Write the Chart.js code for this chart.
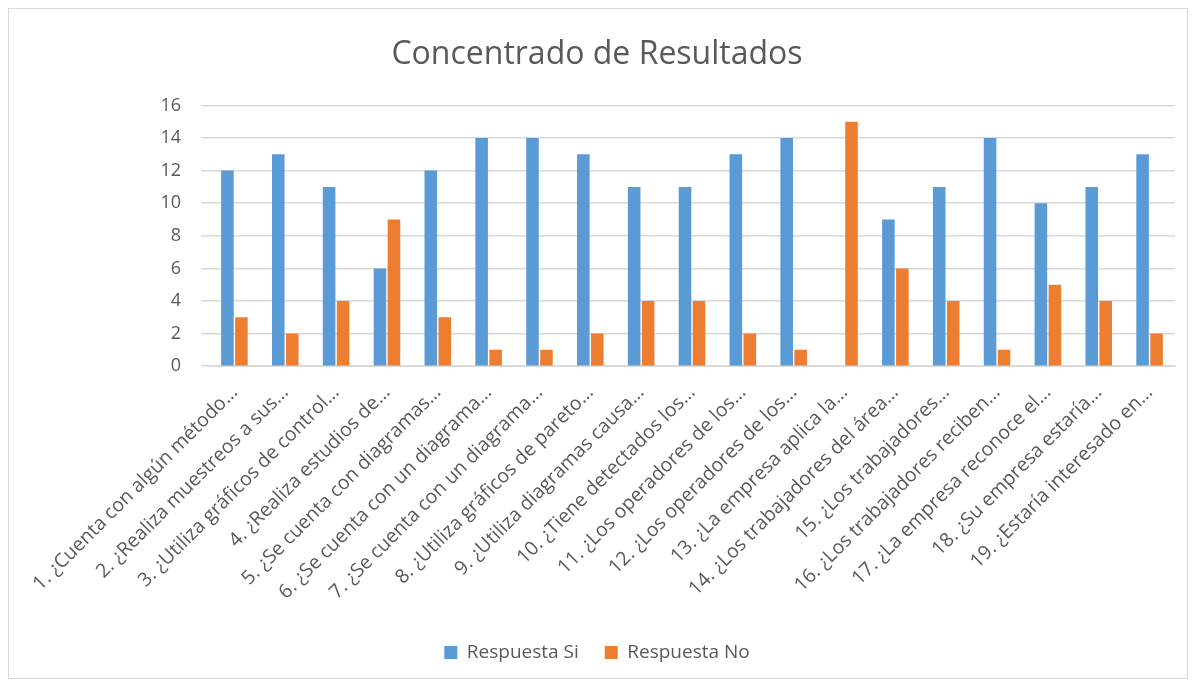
<!DOCTYPE html>
<html>
<head>
<meta charset="utf-8">
<script src="https://cdn.jsdelivr.net/npm/chart.js@4"></script>
<style>
  html, body { margin: 0; padding: 0; background: #fff; }
  #wrap { position: absolute; left: 8px; top: 8px; width: 1180px; height: 671px; border: 1px solid #d9d9d9; box-sizing: border-box; }
</style>
</head>
<body>
<div id="wrap"><canvas id="resultados"></canvas></div>
<script>
/* Concentrado de Resultados */
const preguntas = [
  '1. ¿Cuenta con algún método…',
  '2. ¿Realiza muestreos a sus…',
  '3. ¿Utiliza gráficos de control…',
  '4. ¿Realiza estudios de…',
  '5. ¿Se cuenta con diagramas…',
  '6. ¿Se cuenta con un diagrama…',
  '7. ¿Se cuenta con un diagrama…',
  '8. ¿Utiliza gráficos de pareto…',
  '9. ¿Utiliza diagramas causa…',
  '10. ¿Tiene detectados los…',
  '11. ¿Los operadores de los…',
  '12. ¿Los operadores de los…',
  '13. ¿La empresa aplica la…',
  '14. ¿Los trabajadores del área…',
  '15. ¿Los trabajadores…',
  '16. ¿Los trabajadores reciben…',
  '17. ¿La empresa reconoce el…',
  '18. ¿Su empresa estaría…',
  '19. ¿Estaría interesado en…'
];
const respuestaSi = [12, 13, 11, 6, 12, 14, 14, 13, 11, 11, 13, 14, 0, 9, 11, 14, 10, 11, 13];
const respuestaNo = [3, 2, 4, 9, 3, 1, 1, 2, 4, 4, 2, 1, 15, 6, 4, 1, 5, 4, 2];
const yTicks = [0, 2, 4, 6, 8, 10, 12, 14, 16];

const gris = '#595959';
const fuente = "'Open Sans', 'Noto Sans', sans-serif";

new Chart(document.getElementById('resultados'), {
  type: 'bar',
  data: {
    labels: preguntas,
    datasets: [
      { label: 'Respuesta Si', data: respuestaSi, backgroundColor: '#5b9bd5' },
      { label: 'Respuesta No', data: respuestaNo, backgroundColor: '#ed7d31' }
    ]
  },
  options: {
    responsive: true,
    maintainAspectRatio: false,
    animation: false,
    categoryPercentage: 0.55,
    barPercentage: 0.9,
    layout: { padding: { left: 10, right: 12, top: 0, bottom: 6 } },
    plugins: {
      title: {
        display: true,
        text: 'Concentrado de Resultados',
        color: gris,
        font: { family: fuente, size: 32, weight: 'normal' },
        padding: { top: 27, bottom: 31 }
      },
      legend: {
        position: 'bottom',
        labels: {
          color: gris,
          font: { family: fuente, size: 19 },
          boxWidth: 13,
          boxHeight: 13,
          padding: 26
        }
      },
      tooltip: { enabled: false }
    },
    scales: {
      x: {
        grid: { display: false },
        border: { color: '#d9d9d9' },
        afterFit: (scale) => { scale.height += 6; },
        ticks: {
          color: gris,
          font: { family: fuente, size: 19.5 },
          minRotation: 45,
          maxRotation: 45,
          autoSkip: false,
          padding: 7
        }
      },
      y: {
        min: 0,
        max: 16,
        afterBuildTicks: (scale) => { scale.ticks = yTicks.map(v => ({ value: v })); },
        afterFit: (scale) => { scale.width = 190; },
        grid: { color: '#d9d9d9', lineWidth: 1.5 },
        border: { display: false },
        ticks: {
          color: gris,
          font: { family: fuente, size: 18 },
          padding: 20
        }
      }
    }
  }
});
</script>
</body>
</html>
